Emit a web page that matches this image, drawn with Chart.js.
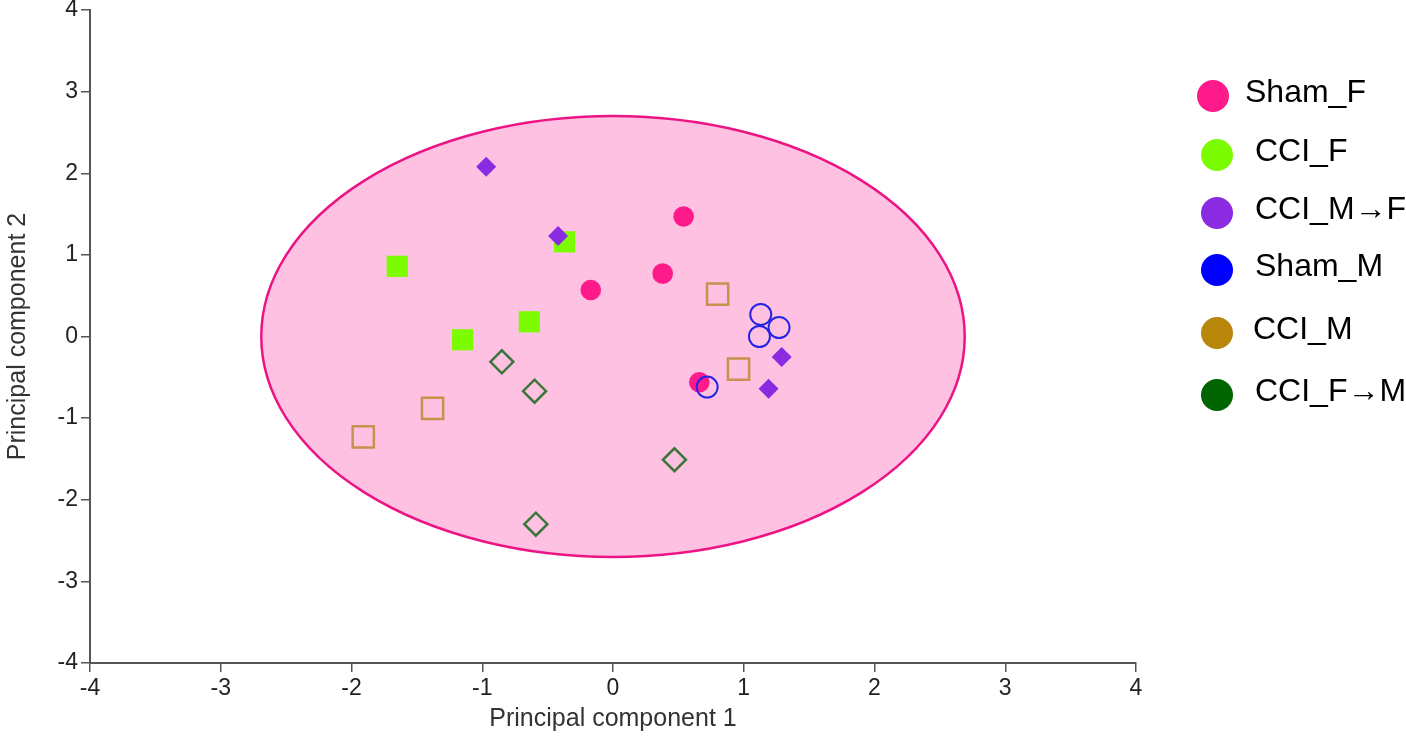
<!DOCTYPE html>
<html>
<head>
<meta charset="utf-8">
<script src="https://cdn.jsdelivr.net/npm/chart.js@4/dist/chart.umd.min.js"></script>
<style>
html,body{margin:0;padding:0;background:#fff;}
#wrap{width:1406px;height:736px;}
</style>
</head>
<body>
<div id="wrap"><canvas id="pca" width="1406" height="736"></canvas></div>
<script>
// groups and their PCA scores (PC1, PC2)
const groups=["Sham_F","CCI_F","CCI_M\u2192F","Sham_M","CCI_M","CCI_F\u2192M"]
const shamF=[{x:0.54,y:1.47},{x:0.38,y:0.77},{x:-0.17,y:0.57},{x:0.66,y:-0.56}]
const cciF=[{x:-1.65,y:0.86},{x:-0.37,y:1.16},{x:-0.64,y:0.18},{x:-1.15,y:-0.04}]
const cciMF=[{x:-0.97,y:2.08},{x:-0.42,y:1.23},{x:1.29,y:-0.25},{x:1.19,y:-0.64}]
const shamM=[{x:1.13,y:0.27},{x:1.27,y:0.11},{x:1.12,y:0.0},{x:0.72,y:-0.62}]
const cciM=[{x:0.80,y:0.52},{x:0.96,y:-0.40},{x:-1.38,y:-0.88},{x:-1.91,y:-1.23}]
const cciFM=[{x:-0.85,y:-0.31},{x:-0.60,y:-0.67},{x:0.47,y:-1.51},{x:-0.59,y:-2.30}]
const axisTicks=[-4,-3,-2,-1,0,1,2,3,4]
// confidence ellipse: centre and radii in data units
const ellipseCenter={x:0,y:0}
const ellipseRadius={x:2.69,y:2.70}

const legendColors=["#ff1a8c","#7cfc00","#8a2be2","#0000ff","#b8860b","#006400"]

const ellipsePlugin={
id:"ellipse",
beforeDatasetsDraw(chart){
const {ctx,scales}=chart
const cx=scales.x.getPixelForValue(ellipseCenter.x)
const cy=scales.y.getPixelForValue(ellipseCenter.y)
const rx=scales.x.getPixelForValue(ellipseCenter.x+ellipseRadius.x)-cx
const ry=cy-scales.y.getPixelForValue(ellipseCenter.y+ellipseRadius.y)
ctx.save()
ctx.beginPath()
ctx.ellipse(cx,cy,rx,ry,0,0,Math.PI*2)
ctx.fillStyle="#ffc1e2"
ctx.fill()
ctx.lineWidth=2.5
ctx.strokeStyle="#ec1485"
ctx.stroke()
ctx.restore()
}
}

// legend on the right, drawn as filled circles like the original
const sideLegend={
id:"sideLegend",
afterDraw(chart){
const ctx=chart.ctx
const rows=[96,155,213,270,333,395]
const textX=[1245,1255,1255,1255,1253,1255]
ctx.save()
ctx.font="32px Arial, 'Liberation Sans', sans-serif"
ctx.textBaseline="middle"
groups.forEach((g,i)=>{
ctx.beginPath()
ctx.arc(i==0?1213:1217,rows[i],16,0,Math.PI*2)
ctx.fillStyle=legendColors[i]
ctx.fill()
ctx.fillStyle="#000"
ctx.fillText(g,textX[i],rows[i]-3)
})
ctx.restore()
}
}

const fontFamily="Arial, 'Liberation Sans', sans-serif"
const tickFont={family:fontFamily,size:23}
const titleFont={family:fontFamily,size:25}
const axisStyle=(title)=>({
type:"linear",
min:-4,
max:4,
afterBuildTicks:(s)=>{s.ticks=axisTicks.map(v=>({value:v}))},
ticks:{color:"#222",font:tickFont,padding:3},
grid:{drawOnChartArea:false,drawTicks:true,tickLength:9,color:"#555",lineWidth:1.5},
border:{color:"#555",width:2},
title:{display:true,text:title,color:"#333",font:titleFont,padding:{top:3,bottom:2}}
})

const xAxis=axisStyle("Principal component 1")
xAxis.position="bottom"
xAxis.afterFit=(s)=>{s.height=73}
const yAxis=axisStyle("Principal component 2")
yAxis.position="left"
// let the top tick label sit in the margin instead of pushing the plot down
yAxis.afterFit=(s)=>{s.width=90;s.paddingTop=0}

new Chart(document.getElementById("pca"),{
type:"scatter",
data:{
datasets:[
{label:groups[0],data:shamF,pointStyle:"circle",pointRadius:10.3,backgroundColor:"#ff1a8c",borderColor:"#ff1a8c",borderWidth:0,order:6},
{label:groups[1],data:cciF,pointStyle:"rect",pointRadius:15,backgroundColor:"#7cfc00",borderColor:"#7cfc00",borderWidth:0,order:5},
{label:groups[2],data:cciMF,pointStyle:"rectRot",pointRadius:10,backgroundColor:"#8a2be2",borderColor:"#8a2be2",borderWidth:0,order:4},
{label:groups[3],data:shamM,pointStyle:"circle",pointRadius:10.5,backgroundColor:"rgba(0,0,0,0)",borderColor:"#2424e6",borderWidth:2,order:3},
{label:groups[4],data:cciM,pointStyle:"rect",pointRadius:15,backgroundColor:"rgba(0,0,0,0)",borderColor:"#c8924e",borderWidth:2.5,order:2},
{label:groups[5],data:cciFM,pointStyle:"rectRot",pointRadius:11.5,backgroundColor:"rgba(0,0,0,0)",borderColor:"#3a763a",borderWidth:2.5,order:1}
]
},
options:{
responsive:false,
animation:false,
layout:{autoPadding:false,padding:{top:10,right:270,left:0,bottom:0}},
plugins:{legend:{display:false},tooltip:{enabled:false}},
scales:{x:xAxis,y:yAxis}
},
plugins:[ellipsePlugin,sideLegend]
})
</script>
</body>
</html>
